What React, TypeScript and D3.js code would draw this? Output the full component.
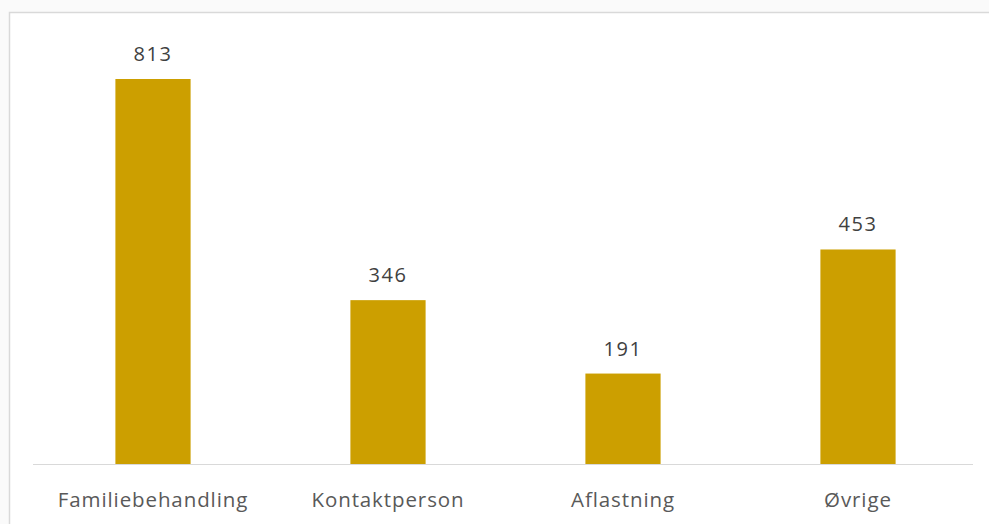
import React from 'react';
import * as d3 from 'd3';

const categories = ['Familiebehandling', 'Kontaktperson', 'Aflastning', 'Øvrige'];
const values = [813, 346, 191, 453];

const W = 989;
const H = 524;
const FONT = "'Open Sans', 'Noto Sans', sans-serif";

export default function App() {
  const x = d3.scaleBand<string>()
    .domain(categories)
    .range([35.5, 975.5])
    .paddingInner(0.68)
    .paddingOuter(0.34);

  const y = d3.scaleLinear()
    .domain([0, 813])
    .range([464, 79]);

  return (
    <svg width={W} height={H} style={{ position: 'absolute', left: 0, top: 0, background: '#fafafa' }}>
      {/* chart frame */}
      <rect x={9.5} y={12.5} width={W + 10} height={H + 10} fill="#ffffff" stroke="#d9d9d9" strokeWidth={1.5} />

      {/* bars */}
      {values.map((v, i) => (
        <rect
          key={categories[i]}
          x={x(categories[i])}
          y={y(v)}
          width={x.bandwidth()}
          height={y(0) - y(v)}
          fill="#cc9f00"
        />
      ))}

      {/* baseline */}
      <line x1={33} x2={973} y1={464.5} y2={464.5} stroke="#d9d9d9" strokeWidth={1.2} />

      {/* value labels */}
      {values.map((v, i) => (
        <text
          key={'v' + i}
          x={(x(categories[i]) ?? 0) + x.bandwidth() / 2}
          y={y(v) - 18}
          textAnchor="middle"
          fontFamily={FONT}
          fontSize={20}
          letterSpacing={1.5}
          fill="#404040"
        >
          {v}
        </text>
      ))}

      {/* category labels */}
      {categories.map((c) => (
        <text
          key={c}
          x={(x(c) ?? 0) + x.bandwidth() / 2}
          y={507}
          textAnchor="middle"
          fontFamily={FONT}
          fontSize={20.5}
          letterSpacing={0.9}
          fill="#595959"
        >
          {c}
        </text>
      ))}
    </svg>
  );
}
